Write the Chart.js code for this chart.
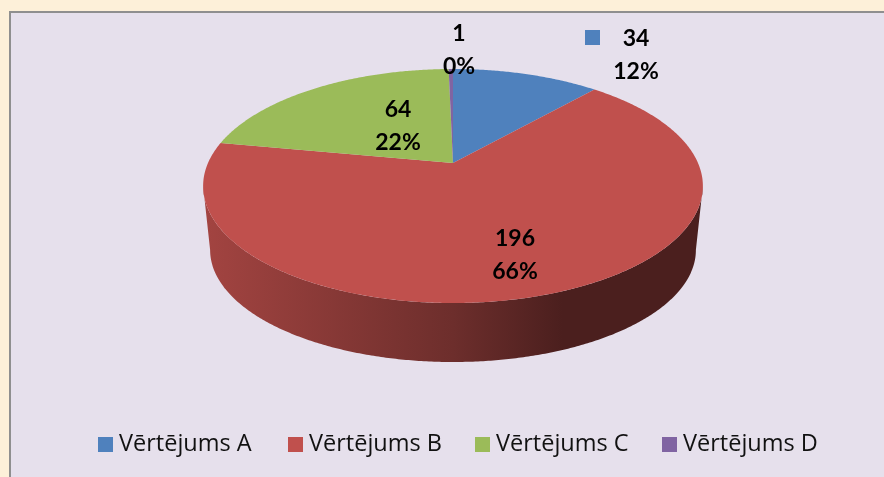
<!DOCTYPE html>
<html lang="lv">
<head>
  <meta charset="UTF-8">
  <title>Vērtējumi</title>
  <script src="https://cdn.jsdelivr.net/npm/chart.js"></script>
  <style>
    html, body { margin: 0; padding: 0; width: 884px; height: 477px; overflow: hidden; background: #fdf0d9; }
    #panel { position: absolute; left: 9px; top: 11px; right: 0; bottom: 0; background: #e6e0ec; border-left: 2px solid #8f8f8f; border-top: 2px solid #8f8f8f; }
    #wrap { position: absolute; left: 0; top: 0; width: 884px; height: 477px; }
  </style>
</head>
<body>
  <div id="panel"></div>
  <div id="wrap"><canvas id="pieChart"></canvas></div>

  <script>
    // Chart data
    const categories = ['Vērtējums A', 'Vērtējums B', 'Vērtējums C', 'Vērtējums D'];
    const values = [34, 196, 64, 1];
    const percents = ['12%', '66%', '22%', '0%'];
    const colors = ['#4f81bd', '#c0504d', '#9bbb59', '#8064a2'];

    // Where the two line data labels sit (centre x, y of first line)
    const labelSpots = [[636, 39], [515, 239], [398, 110], [459, 34]];
    // Left edge of each legend key
    const legendSpots = [98, 288, 475, 662];

    // Perspective of the tilted disc: apex, radius, depth terms
    const cx = 453, cy = 163, R = 245, A = 112.5, C = -0.1966;

    function project(theta) {
      const u = Math.sin(theta), v = -Math.cos(theta);
      const w = 1 + C * v;
      return [cx + R * u / w, cy + A * v / w];
    }

    // Lower rim of the side wall
    function projectLow(theta) {
      const p = project(theta);
      return [cx + (p[0] - cx) * 0.972, cy + (p[1] - cy) * 0.957 + 65];
    }

    function shade(hex, f) {
      const n = parseInt(hex.slice(1), 16);
      return `rgb(${Math.round((n >> 16) * f)},${Math.round(((n >> 8) & 255) * f)},${Math.round((n & 255) * f)})`;
    }

    const STEP = Math.PI / 360;
    const pie3d = {
      id: 'pie3d',
      // draw the arcs ourselves, from the angles the library worked out
      beforeDatasetDraw(chart, args) {
        const ctx = chart.ctx;
        const arcs = args.meta.data;
        const frontA = Math.acos(C), frontB = 2 * Math.PI - frontA;

        arcs.forEach((arc, i) => {
          const a = Math.max(arc.startAngle + Math.PI / 2, frontA);
          const b = Math.min(arc.endAngle + Math.PI / 2, frontB);
          if (b <= a) return;
          const g = ctx.createLinearGradient(203, 0, 703, 0);
          g.addColorStop(0, shade(colors[i], 0.85));
          g.addColorStop(0.5, shade(colors[i], 0.57));
          g.addColorStop(0.72, shade(colors[i], 0.39));
          g.addColorStop(1, shade(colors[i], 0.39));
          ctx.beginPath();
          for (let t = a; t < b; t += STEP) ctx.lineTo(...project(t));
          ctx.lineTo(...project(b));
          for (let t = b; t > a; t -= STEP) ctx.lineTo(...projectLow(t));
          ctx.lineTo(...projectLow(a));
          ctx.closePath();
          ctx.fillStyle = g;
          ctx.fill();
        });

        arcs.forEach((arc, i) => {
          const a = arc.startAngle + Math.PI / 2, b = arc.endAngle + Math.PI / 2;
          ctx.beginPath();
          ctx.moveTo(cx, cy);
          for (let t = a; t < b; t += STEP) ctx.lineTo(...project(t));
          ctx.lineTo(...project(b));
          ctx.closePath();
          ctx.fillStyle = colors[i];
          ctx.fill();
        });
        return false;
      },
      afterDatasetsDraw(chart) {
        const ctx = chart.ctx;
        ctx.save();
        ctx.font = 'bold 23px Lato';
        ctx.fillStyle = '#000';
        ctx.textAlign = 'center';
        ctx.textBaseline = 'middle';
        values.forEach((val, i) => {
          const [x, y] = labelSpots[i];
          ctx.fillText(String(val), x, y);
          ctx.fillText(percents[i], x, y + 33);
        });
        // legend key shown beside the first label
        ctx.fillStyle = colors[0];
        ctx.fillRect(585, 30, 15, 15);

        // legend, the built in one keeps too wide a gap after the key
        ctx.font = '23.5px "Open Sans"';
        ctx.textAlign = 'left';
        categories.forEach((name, i) => {
          ctx.fillStyle = colors[i];
          ctx.fillRect(legendSpots[i], 437, 15, 15);
          ctx.fillStyle = '#111';
          ctx.fillText(name, legendSpots[i] + 21, 444);
        });
        ctx.restore();
      }
    };

    new Chart('pieChart', {
      type: 'pie',
      data: {
        labels: categories,
        datasets: [{ data: values, backgroundColor: colors, borderWidth: 0 }]
      },
      options: {
        responsive: true,
        maintainAspectRatio: false,
        animation: false,
        plugins: {
          tooltip: { enabled: false },
          legend: { display: false }
        }
      },
      plugins: [pie3d]
    });
  </script>
</body>
</html>
